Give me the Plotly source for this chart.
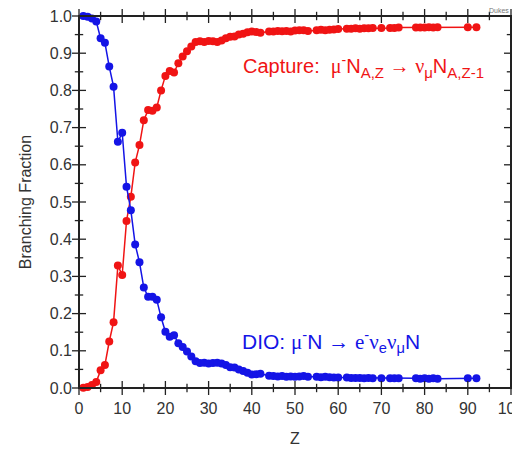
import plotly.graph_objects as go

Z = [1, 2, 3, 4, 5, 6, 7, 8, 9, 10, 11, 12, 13, 14, 15, 16, 17, 18, 19, 20,
     21, 22, 23, 24, 25, 26, 27, 28, 29, 30, 31, 32, 33, 34, 35, 36, 37, 38, 39, 40,
     41, 42, 44, 45, 46, 47, 48, 49, 50, 51, 52, 53, 55, 56, 57, 58, 59, 60, 62, 63,
     64, 65, 66, 67, 68, 70, 72, 73, 74, 78, 79, 80, 81, 82, 83, 90, 92]

capture = [0.001, 0.003, 0.008, 0.016, 0.048, 0.062, 0.125, 0.177, 0.329, 0.304,
           0.449, 0.514, 0.606, 0.653, 0.720, 0.747, 0.745, 0.754, 0.800, 0.839,
           0.852, 0.848, 0.873, 0.891, 0.905, 0.918, 0.930, 0.932, 0.930, 0.933,
           0.932, 0.930, 0.934, 0.940, 0.944, 0.945, 0.950, 0.952, 0.956, 0.958,
           0.957, 0.955, 0.958, 0.958, 0.960, 0.959, 0.960, 0.958, 0.961, 0.962,
           0.962, 0.960, 0.962, 0.963, 0.962, 0.963, 0.964, 0.965, 0.966, 0.966,
           0.967, 0.966, 0.967, 0.967, 0.968, 0.968, 0.968, 0.968, 0.969, 0.969,
           0.969, 0.969, 0.970, 0.969, 0.970, 0.970, 0.970]

dio = [1.000, 0.998, 0.993, 0.985, 0.940, 0.928, 0.864, 0.810, 0.662, 0.686,
       0.541, 0.478, 0.386, 0.338, 0.270, 0.245, 0.245, 0.237, 0.190, 0.151,
       0.138, 0.142, 0.120, 0.110, 0.098, 0.085, 0.072, 0.067, 0.068, 0.066,
       0.067, 0.068, 0.066, 0.062, 0.056, 0.055, 0.050, 0.046, 0.041, 0.036,
       0.037, 0.038, 0.033, 0.032, 0.031, 0.032, 0.030, 0.031, 0.030, 0.031,
       0.032, 0.030, 0.030, 0.029, 0.030, 0.029, 0.028, 0.028, 0.028, 0.027,
       0.027, 0.027, 0.026, 0.027, 0.026, 0.026, 0.026, 0.026, 0.026, 0.026,
       0.025, 0.026, 0.025, 0.026, 0.025, 0.026, 0.026]

X_MAJOR = [0, 10, 20, 30, 40, 50, 60, 70, 80, 90, 100]
X_MINOR = [5, 15, 25, 35, 45, 55, 65, 75, 85, 95]
Y_MAJOR = [0.0, 0.1, 0.2, 0.3, 0.4, 0.5, 0.6, 0.7, 0.8, 0.9, 1.0]
Y_MINOR = [0.05, 0.15, 0.25, 0.35, 0.45, 0.55, 0.65, 0.75, 0.85, 0.95]
Y_LABELS = ["0.0", "0.1", "0.2", "0.3", "0.4", "0.5", "0.6", "0.7", "0.8", "0.9", "1.0"]

RED = "#f01414"
BLUE = "#1414e6"
INK = "#222222"
FONT = "Liberation Sans, Arial"

W, H = 520, 449
ML, MR, MT, MB = 71, 17, 8, 69   # page body adds an 8px offset; margins compensate

fig = go.Figure()
fig.add_trace(go.Scatter(x=Z, y=capture, mode="lines+markers",
                         line=dict(color=RED, width=1.5),
                         marker=dict(color=RED, size=8), showlegend=False, cliponaxis=False))
fig.add_trace(go.Scatter(x=Z, y=dio, mode="lines+markers",
                         line=dict(color=BLUE, width=1.5),
                         marker=dict(color=BLUE, size=8), showlegend=False, cliponaxis=False))

# tick marks on all four sides, drawn as line markers on the axis scales
X_LO, X_HI = 0, 100
Y_LO, Y_HI = 0.0, 1.0

def tick_trace(xs, ys, symbol, size):
    fig.add_trace(go.Scatter(x=xs, y=ys, mode="markers", hoverinfo="skip", showlegend=False,
                             cliponaxis=False,
                             marker=dict(symbol=symbol, size=size, color=INK,
                                         line=dict(color=INK, width=1.3))))

for vals, size in ((X_MAJOR, 10), (X_MINOR, 6)):
    tick_trace(vals, [Y_LO] * len(vals), "line-ns", size)
    tick_trace(vals, [Y_HI] * len(vals), "line-ns", size)
for vals, size in ((Y_MAJOR, 10), (Y_MINOR, 6)):
    tick_trace([X_LO] * len(vals), vals, "line-ew", size)
    tick_trace([X_HI] * len(vals), vals, "line-ew", size)

axis_common = dict(showline=False, ticks="", showgrid=False, zeroline=False,
                   automargin=False, ticklabeloverflow="allow",
                   tickfont=dict(family=FONT, size=16, color="#333333"))

fig.update_xaxes(range=[X_LO, X_HI], tickvals=X_MAJOR, ticklabelstandoff=9,
                 title=dict(text="Z", font=dict(family=FONT, size=16, color="#333333"), standoff=16),
                 **axis_common)
fig.update_yaxes(range=[Y_LO, Y_HI], tickvals=Y_MAJOR, ticktext=Y_LABELS, ticklabelstandoff=6,
                 title=dict(text="Branching Fraction", font=dict(family=FONT, size=16, color="#333333"), standoff=14),
                 **axis_common)

# plot frame
fig.add_shape(type="rect", xref="paper", yref="paper", x0=0, x1=1, y0=0, y1=1,
              line=dict(color=INK, width=2), layer="above")

serif = "font-family:Liberation Serif, Times New Roman, serif"
sub = "font-size:15px"
cap_text = (f"Capture:  <span style='{serif}'>μ</span><sup>-</sup>N"
            f"<sub><span style='{sub}'>A,Z</span></sub> → "
            f"<span style='{serif}'>ν</span><sub><span style='{sub}'>μ</span></sub>N"
            f"<sub><span style='{sub}'>A,Z-1</span></sub>")
dio_text = (f"DIO: <span style='{serif}'>μ</span><sup>-</sup>N → "
            f"<span style='{serif}'>e</span><sup>-</sup><span style='{serif}'>ν</span><sub>e</sub>"
            f"<span style='{serif}'>ν</span><sub>μ</sub>N")

fig.add_annotation(x=37.5, y=0.865, xref="x", yref="y", text=cap_text, showarrow=False,
                   xanchor="left", yanchor="middle",
                   font=dict(family=FONT, size=20, color=RED))
fig.add_annotation(x=37.2, y=0.125, xref="x", yref="y", text=dio_text, showarrow=False,
                   xanchor="left", yanchor="middle",
                   font=dict(family=FONT, size=21, color=BLUE))
fig.add_annotation(x=1.0, y=1.0, xref="paper", yref="paper", text="Dukes",
                   showarrow=False, yanchor="bottom", xanchor="right",
                   font=dict(family=FONT, size=7, color="#777777"))

fig.update_layout(width=W, height=H, margin=dict(l=ML, r=MR, t=MT, b=MB),
                  plot_bgcolor="white", paper_bgcolor="white")

fig.write_html("out.html")
